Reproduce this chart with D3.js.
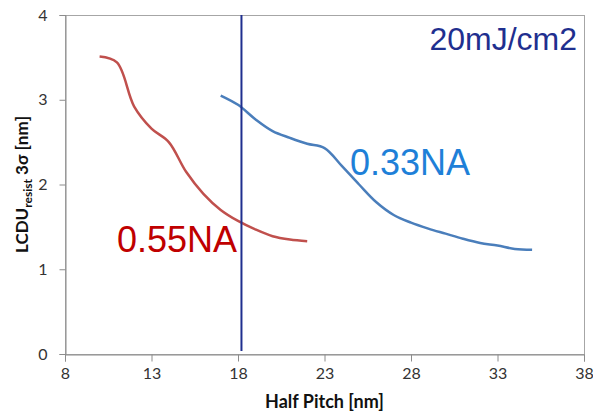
<!DOCTYPE html>
<html lang="en">
<head>
<meta charset="UTF-8">
<title>LCDU vs Half Pitch</title>
<script src="https://cdn.jsdelivr.net/npm/d3@7"></script>
<style>
  body { margin: 0; background: #fff; }
</style>
</head>
<body>
<script type="text/javascript">
    var width = 593;
    var height = 413;

    // data
    var pitchNA055 = [10, 11, 12, 13, 14, 15, 16, 17, 18, 19, 20, 21, 22];
    var lcduNA055 = [3.51, 3.44, 2.92, 2.66, 2.50, 2.15, 1.89, 1.70, 1.57, 1.47, 1.39, 1.35, 1.33];
    var pitchNA033 = [17, 18, 19, 20, 21, 22, 23, 24, 25, 26, 27, 28, 29, 30, 31, 32, 33, 34, 35];
    var lcduNA033 = [3.05, 2.94, 2.77, 2.63, 2.55, 2.48, 2.43, 2.22, 2.00, 1.79, 1.64, 1.55, 1.48, 1.42, 1.36, 1.31, 1.28, 1.24, 1.23];
    var xTicks = [8, 13, 18, 23, 28, 33, 38];
    var yTicks = [0, 1, 2, 3, 4];
    var markerPitch = 18.2;

    var margin = {left: 65, right: 9, top: 15, bottom: 59};

    var svg = d3.select('body').append('svg')
            .attr('width', width)
            .attr('height', height);

    var x = d3.scaleLinear().domain([8, 38]).range([margin.left, width - margin.right]);
    var y = d3.scaleLinear().domain([0, 4]).range([height - margin.bottom, margin.top]);

    var axisColor = '#8c8c8c';

    // frame
    svg.append('rect')
            .attr('x', x(8) + 0.5)
            .attr('y', y(4) + 0.5)
            .attr('width', x(38) - x(8))
            .attr('height', y(0) - y(4))
            .attr('fill', 'none')
            .attr('stroke', '#a6a6a6')
            .attr('stroke-width', 1);

    var xAxis = svg.append('g')
            .attr('transform', 'translate(0,' + (y(0) + 0.5) + ')')
            .call(d3.axisBottom(x).tickValues(xTicks).tickSize(7).tickPadding(6));
    var yAxis = svg.append('g')
            .attr('transform', 'translate(' + (x(8) + 0.5) + ',0)')
            .call(d3.axisLeft(y).tickValues(yTicks).tickSize(6).tickPadding(12).tickFormat(d3.format('d')));

    [xAxis, yAxis].forEach(function (g) {
        g.select('.domain').attr('stroke', axisColor);
        g.selectAll('.tick line').attr('stroke', axisColor);
        g.selectAll('.tick text')
                .attr('fill', '#333')
                .style('font-family', 'Lato, "Open Sans", sans-serif')
                .style('font-size', '16px');
    });

    var line = d3.line()
            .x(function (d) { return x(d[0]); })
            .y(function (d) { return y(d[1]); })
            .curve(d3.curveCatmullRom.alpha(0.5));

    svg.append('path')
            .attr('d', line(d3.zip(pitchNA055, lcduNA055)))
            .attr('fill', 'none')
            .attr('stroke', '#c0504d')
            .attr('stroke-width', 2.5);

    svg.append('path')
            .attr('d', line(d3.zip(pitchNA033, lcduNA033)))
            .attr('fill', 'none')
            .attr('stroke', '#4a7ebb')
            .attr('stroke-width', 2.5);

    // vertical marker
    svg.append('line')
            .attr('x1', x(markerPitch))
            .attr('x2', x(markerPitch))
            .attr('y1', y(4))
            .attr('y2', y(0) - 3)
            .attr('stroke', '#1f2f8f')
            .attr('stroke-width', 2);

    // annotations
    svg.append('text')
            .attr('x', 577)
            .attr('y', 50)
            .attr('text-anchor', 'end')
            .attr('fill', '#1f2f8f')
            .style('font-family', '"Liberation Sans", Arial, sans-serif')
            .style('font-size', '32px')
            .text('20mJ/cm2');

    svg.append('text')
            .attr('x', 350)
            .attr('y', 175)
            .attr('fill', '#1e80d8')
            .style('font-family', '"Liberation Sans", Arial, sans-serif')
            .style('font-size', '36px')
            .text('0.33NA');

    svg.append('text')
            .attr('x', 117)
            .attr('y', 252)
            .attr('fill', '#c00000')
            .style('font-family', '"Liberation Sans", Arial, sans-serif')
            .style('font-size', '36px')
            .text('0.55NA');

    // axis titles
    svg.append('text')
            .attr('x', (x(8) + x(38)) / 2)
            .attr('y', 408)
            .attr('text-anchor', 'middle')
            .attr('fill', '#111')
            .style('font-family', 'Lato, "Open Sans", sans-serif')
            .style('font-weight', 'bold')
            .style('font-size', '18px')
            .text('Half Pitch [nm]');

    var yTitle = svg.append('text')
            .attr('transform', 'translate(28,' + ((y(0) + y(4)) / 2) + ') rotate(-90)')
            .attr('text-anchor', 'middle')
            .attr('fill', '#111')
            .style('font-family', 'Lato, "Open Sans", sans-serif')
            .style('font-weight', 'bold')
            .style('font-size', '17px');
    yTitle.append('tspan').text('LCDU');
    yTitle.append('tspan').attr('dy', 4).style('font-size', '12px').text('resist');
    yTitle.append('tspan').attr('dy', -4).text(' 3σ [nm]');
</script>
</body>
</html>
